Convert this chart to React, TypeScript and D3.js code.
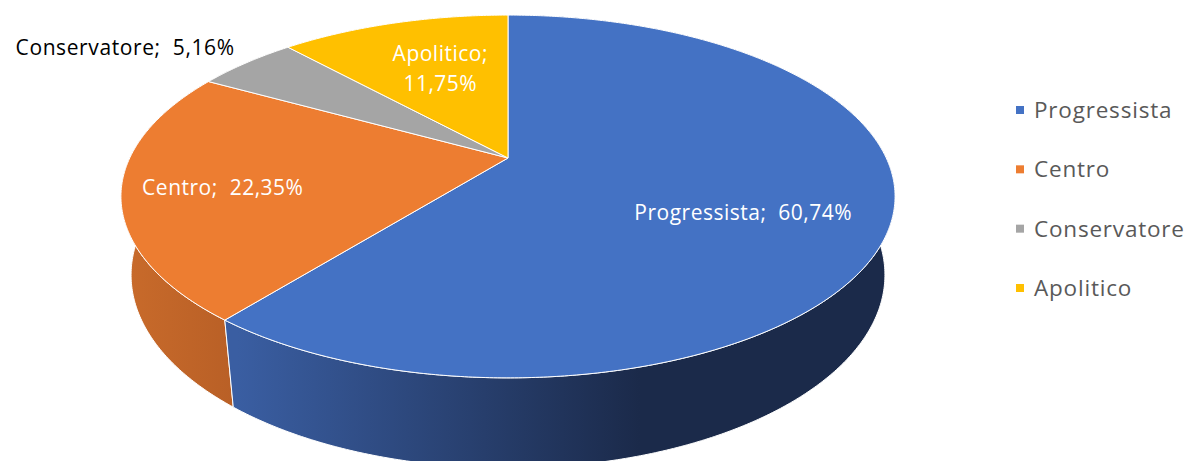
import * as d3 from 'd3';

const categories = ['Progressista', 'Centro', 'Conservatore', 'Apolitico'];
const values = [60.74, 22.35, 5.16, 11.75];
const valueLabels = ['60,74%', '22,35%', '5,16%', '11,75%'];
const colors = ['#4472C4', '#ED7D31', '#A5A5A5', '#FFC000'];
const sideColors: [string, string][] = [
  ['#3a5ea2', '#1b2a4a'],
  ['#c96b2b', '#b85f26'],
  ['#8a8a8a', '#7a7a7a'],
  ['#d9a300', '#c99600'],
];

// camera / 3d setup (fitted to the reference)
const W = 1191;
const H = 461;
const cx = 508;
const cy = 158;
const f = 1586;
const D = 4.193;
const k = 0.889; // cos of elevation
const s = 0.458; // sin of elevation
const depthH = 0.235;

const project = (a: number, r: number, Y: number): [number, number] => {
  const u = r * Math.sin(a);
  const v = -r * Math.cos(a);
  const z = D - v * k - Y * s;
  return [cx + (f * u) / z, cy + (f * (v * s - Y * k)) / z];
};

const arcPoints = (a0: number, a1: number, Y: number) => {
  const n = Math.max(2, Math.ceil(((a1 - a0) * 180) / Math.PI / 0.5));
  return d3.range(n + 1).map((i) => project(a0 + ((a1 - a0) * i) / n, 1, Y));
};

const line = d3.line();

// label placement (radius factor on the top face)
const labelRadius = [0.63, 0.745, 1.05, 0.55];

const App = () => {
  const pie = d3.pie<number>().sort(null).startAngle(0).endAngle(2 * Math.PI);
  const arcs = pie(values);

  // side walls, back to front
  const walls = arcs
    .map((d, i) => ({ d, i, mid: -Math.cos((d.startAngle + d.endAngle) / 2) }))
    .sort((a, b) => a.mid - b.mid);

  const legendY = d3.scalePoint<string>().domain(categories).range([110, 288]);

  return (
    <svg
      width={W}
      height={H}
      style={{ position: 'absolute', left: 0, top: 0, background: '#fff' }}
      fontFamily="'Open Sans', Lato, sans-serif"
    >
      <defs>
        {sideColors.map((c, i) => (
          <linearGradient
            key={i}
            id={`side${i}`}
            gradientUnits="userSpaceOnUse"
            x1={i === 1 ? 120 : 237}
            x2={i === 1 ? 240 : 640}
            y1={0}
            y2={0}
          >
            <stop offset="0" stopColor={c[0]} />
            <stop offset="1" stopColor={c[1]} />
          </linearGradient>
        ))}
      </defs>

      {walls.map(({ d, i }) => {
        const top = arcPoints(d.startAngle, d.endAngle, 0);
        const bottom = arcPoints(d.startAngle, d.endAngle, -depthH).reverse();
        return (
          <path
            key={`w${i}`}
            d={line([...top, ...bottom]) + 'Z'}
            fill={`url(#side${i})`}
            stroke="#ffffff"
            strokeWidth={1}
            strokeLinejoin="round"
          />
        );
      })}

      {arcs.map((d, i) => {
        const pts: [number, number][] = [project(0, 0, 0), ...arcPoints(d.startAngle, d.endAngle, 0)];
        return (
          <path
            key={`t${i}`}
            d={line(pts) + 'Z'}
            fill={colors[i]}
            stroke="#ffffff"
            strokeWidth={1}
            strokeLinejoin="round"
          />
        );
      })}

      {arcs.map((d, i) => {
        const mid = (d.startAngle + d.endAngle) / 2;
        const [x, y] = project(mid, labelRadius[i], 0);
        if (categories[i] === 'Conservatore') {
          return (
            <text
              key={`l${i}`}
              x={x}
              y={y - 4}
              textAnchor="end"
              fontSize={21}
              letterSpacing={0.6}
              fill="#000"
              style={{ whiteSpace: 'pre' }}
            >
              {`${categories[i]};  ${valueLabels[i]}`}
            </text>
          );
        }
        if (categories[i] === 'Apolitico') {
          return (
            <text key={`l${i}`} x={x} y={y} textAnchor="middle" fontSize={21} letterSpacing={0.5} fill="#fff">
              <tspan x={x} y={y - 17}>{`${categories[i]};`}</tspan>
              <tspan x={x} y={y + 13}>{valueLabels[i]}</tspan>
            </text>
          );
        }
        return (
          <text
            key={`l${i}`}
            x={x}
            y={y + 7 + (i === 0 ? 17 : 4)}
            textAnchor="middle"
            fontSize={21}
            letterSpacing={0.5}
            fill="#fff"
            style={{ whiteSpace: 'pre' }}
          >
            {`${categories[i]};  ${valueLabels[i]}`}
          </text>
        );
      })}

      <g>
        {categories.map((c, i) => (
          <g key={c} transform={`translate(1016,${legendY(c)})`}>
            <rect x={0} y={-4} width={8} height={8} fill={colors[i]} />
            <text x={18} y={0} dy="0.35em" fontSize={22.5} letterSpacing={0.8} fill="#595959">
              {c}
            </text>
          </g>
        ))}
      </g>
    </svg>
  );
};

export default App;
